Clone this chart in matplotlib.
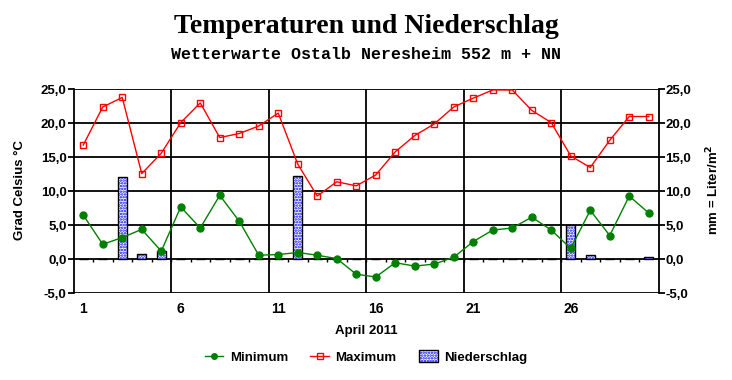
import numpy as np
import matplotlib
matplotlib.use('Agg')
import matplotlib.pyplot as plt
from matplotlib.lines import Line2D
from matplotlib.patches import Patch
from matplotlib.legend_handler import HandlerTuple

# Daily values April 2011
days = np.arange(1, 31)
t_min = [6.5, 2.2, 3.2, 4.4, 1.2, 7.7, 4.6, 9.4, 5.6, 0.6,
         0.7, 1.0, 0.6, 0.1, -2.2, -2.6, -0.5, -1.0, -0.7, 0.3,
         2.6, 4.3, 4.6, 6.2, 4.3, 1.6, 7.2, 3.5, 9.3, 6.8]
t_max = [16.8, 22.4, 23.8, 12.6, 15.6, 20.1, 23.0, 17.9, 18.5, 19.6,
         21.5, 14.0, 9.3, 11.4, 10.8, 12.4, 15.8, 18.2, 19.9, 22.4,
         23.7, 24.9, 24.9, 21.9, 20.1, 15.2, 13.5, 17.5, 21.0, 21.0]
rain = [0, 0, 12.1, 0.8, 1.2, 0, 0, 0, 0, 0,
        0, 12.2, 0.1, 0, 0, 0, 0, 0, 0, 0,
        0, 0, 0, 0, 0, 5.0, 0.6, 0.1, 0, 0.4]
xticks = [1, 6, 11, 16, 21, 26]
yticks = [-5, 0, 5, 10, 15, 20, 25]

plt.rcParams['font.family'] = 'Liberation Sans'
plt.rcParams['font.weight'] = 'bold'
plt.rcParams['hatch.linewidth'] = 1.2

fig = plt.figure(figsize=(7.32, 3.80), dpi=100)
ax = fig.add_axes([73.5 / 732, 1 - 293.3 / 380, 585 / 732, 204 / 380])

# precipitation bars: dotted fill, black outline
ax.bar(days, rain, width=0.48, color='white', edgecolor='#0000ff', hatch='......',
       linewidth=0, zorder=2)
ax.bar(days, rain, width=0.48, fill=False, edgecolor='black', linewidth=1, zorder=3)

ax.plot(days, t_min, color='#008000', lw=1, marker='o', ms=5, mfc='#008000',
        mec='#008000', zorder=5)
ax.plot(days, t_max, color='#ff0000', lw=1, marker='s', ms=5, mfc='none',
        mec='#ff0000', mew=1, zorder=5)

# gridlines
for y in yticks:
    ax.axhline(y, color='black', lw=1.3, zorder=1)
for x in days[4:29:5] + 0.5:
    ax.axvline(x, color='black', lw=1.3, zorder=1)
# small ticks on zero line
ax.vlines(days[:-1] + 0.5, -0.45, 0, color='black', lw=1, zorder=1)

ax.set_xlim(0.5, 30.5)
ax.set_ylim(-5, 25)
ax.set_xticks(xticks)
ax.set_xticklabels([str(d) for d in xticks], fontsize=10, fontweight='bold')
ax.set_yticks(yticks)
ylabels = [f'{v:.1f}'.replace('.', ',') for v in yticks]
ax.set_yticklabels(ylabels, fontsize=9.5, fontweight='bold')
ax.tick_params(axis='x', length=0, pad=6)
ax.tick_params(axis='y', length=4, width=1.3, pad=1)
for s in ['top', 'bottom']:
    ax.spines[s].set_visible(False)
for s in ['left', 'right']:
    ax.spines[s].set_linewidth(1.3)

ax2 = ax.twinx()
ax2.set_ylim(-5, 25)
ax2.set_yticks(yticks)
ax2.set_yticklabels(ylabels, fontsize=9.5, fontweight='bold')
ax2.tick_params(axis='y', length=4, width=1.3, pad=1)
for s in ['top', 'bottom', 'left', 'right']:
    ax2.spines[s].set_visible(False)

fig.text(20 / 732, 1 - 190 / 380, 'Grad Celsius °C', rotation=90, ha='center', va='center',
         fontsize=9.5, fontweight='bold')
fig.text(713 / 732, 1 - 190 / 380, 'mm = Liter/m$^\\mathbf{2}$', rotation=90, ha='center',
         va='center', fontsize=9.5, fontweight='bold')

fig.text(0.5, 1 - 33 / 380, 'Temperaturen und Niederschlag', ha='center', va='baseline',
         fontsize=20, fontweight='bold', family='Liberation Serif')
fig.text(0.5, 1 - 59 / 380, 'Wetterwarte Ostalb Neresheim 552 m + NN', ha='center',
         va='baseline', fontsize=12, fontweight='bold', family='Liberation Mono')
fig.text(0.5, 1 - 331 / 380, 'April 2011', ha='center', va='center', fontsize=9.5,
         fontweight='bold')

h_rain = (Patch(facecolor='white', edgecolor='#0000ff', hatch='......', lw=0),
          Patch(fill=False, edgecolor='black', lw=1))
handles = [
    Line2D([], [], color='#008000', lw=1, marker='o', ms=4, mfc='#008000', mec='#008000'),
    Line2D([], [], color='#ff0000', lw=1, marker='s', ms=4, mfc='none', mec='#ff0000'),
    h_rain,
]
leg = fig.legend(handles, ['Minimum', 'Maximum', 'Niederschlag'], loc='center',
                 bbox_to_anchor=(0.5, 1 - 357 / 380), ncol=3, frameon=False,
                 prop={'size': 9.5, 'weight': 'bold'}, handlelength=1.4,
                 handleheight=1.0, handletextpad=0.5, columnspacing=1.7,
                 handler_map={tuple: HandlerTuple(ndivide=1, pad=0)})

fig.savefig('out.png', dpi=100, facecolor='white')
